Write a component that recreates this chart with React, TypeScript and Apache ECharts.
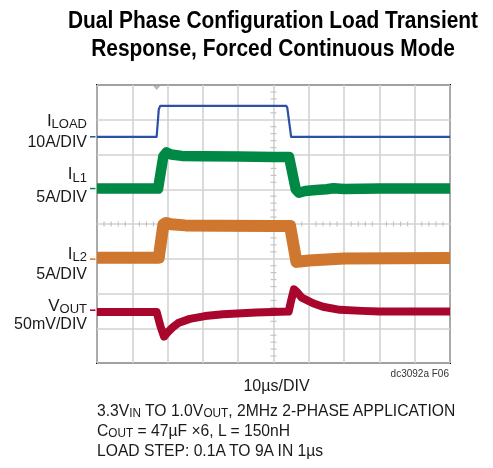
import React, { useEffect, useRef } from 'react';
import * as echarts from 'echarts';

// ---------- data ----------
const TITLE_TEXT = 'Dual Phase Configuration Load Transient\nResponse, Forced Continuous Mode';
const X_AXIS_LABEL = '10µs/DIV';
const FIG_CODE = 'dc3092a F06';

// time axis in µs (10 µs/div), vertical axis in screen divisions (0..8)
const X_MIN = 0, X_MAX = 100, X_INTERVAL = 10;
const Y_MIN = 0, Y_MAX = 8, Y_INTERVAL = 1;

const ILOAD_T = [0, 16.9, 17.5, 17.9, 53.6, 53.9, 55.0, 100];
const ILOAD_V = [6.51, 6.51, 7.3, 7.4, 7.4, 7.35, 6.51, 6.51];

const IL1_T = [0, 17.3, 18.8, 19.7, 21, 24, 30, 40, 50, 54.4, 56.3, 57.2, 59, 62, 65, 67, 70, 80, 100];
const IL1_V = [5.02, 5.02, 5.95, 6.06, 6.0, 5.96, 5.95, 5.94, 5.93, 5.93, 5.0, 4.9, 4.95, 4.98, 5.0, 5.03, 5.01, 5.02, 5.02];

const IL2_T = [0, 17.5, 18.8, 19.6, 21, 25, 35, 50, 54.7, 56.5, 57.5, 60, 65, 70, 100];
const IL2_V = [3.03, 3.03, 3.98, 4.03, 3.99, 3.96, 3.95, 3.94, 3.94, 2.91, 2.92, 2.95, 2.98, 3.01, 3.02];

const VOUT_T = [0, 16.9, 18.0, 19.0, 20.0, 21.5, 23, 26.3, 30.6, 35.7, 45, 54.3, 55.0, 55.8, 56.6, 58, 61.2, 64, 68.8, 75, 80, 100];
const VOUT_V = [1.47, 1.47, 1.05, 0.76, 0.88, 1.03, 1.15, 1.27, 1.35, 1.4, 1.45, 1.48, 1.8, 2.12, 2.05, 1.88, 1.72, 1.62, 1.53, 1.5, 1.48, 1.48];

const MARKER_LEVELS = [6.51, 5.02, 2.99, 1.52];
const TRIGGER_T = 16.9;

const TRACE_MAIN = ['I', 'I', 'I', 'V'];
const TRACE_SUB = ['LOAD', 'L1', 'L2', 'OUT'];
const TRACE_SCALE = ['10A/DIV', '5A/DIV', '5A/DIV', '50mV/DIV'];

const NOTE_LINES = [
  '3.3V{s|IN} TO 1.0V{s|OUT}, 2MHz 2-PHASE APPLICATION',
  'C{s|OUT} = 47µF ×6, L = 150nH',
  'LOAD STEP: 0.1A TO 9A IN 1µs',
];

// ---------- styles ----------
const COLORS = ['#2c50a4', '#008845', '#cf772e', '#a8062c'];
const WIDTHS = [2.2, 10.5, 12, 8];
const FONT = "'Liberation Sans', Arial, sans-serif";
const TEXT_COLOR = '#1a1a1a';

const LABEL_MAIN_Y = [120, 173.5, 253, 305];
const LABEL_SCALE_Y = [141.7, 196, 273, 323];

const zip = (t: number[], v: number[]) => t.map((x, i) => [x, v[i]]);

export default function App() {
  const ref = useRef<HTMLDivElement>(null);
  useEffect(() => {
    if (!ref.current) return;
    const chart = echarts.init(ref.current, undefined, { renderer: 'svg' });

    const ticks: number[][] = [];
    for (let k = 1; k < 50; k++) {
      if (k % 5 !== 0) ticks.push([X_MIN + k * (X_INTERVAL / 5), (Y_MIN + Y_MAX) / 2, 0]);
    }
    for (let k = 1; k < 40; k++) {
      if (k % 5 !== 0) ticks.push([(X_MIN + X_MAX) / 2, Y_MIN + k * (Y_INTERVAL / 5), 1]);
    }

    const rich = (size: number, subSize: number, pad: number) => ({
      m: { fontSize: size, fontFamily: FONT, fill: TEXT_COLOR, color: TEXT_COLOR },
      s: { fontSize: subSize, fontFamily: FONT, fill: TEXT_COLOR, color: TEXT_COLOR, padding: [pad, 0, 0, 0] },
    });

    const graphic: any[] = [
      {
        type: 'text', x: 273, y: 34, scaleX: 0.872,
        style: {
          text: TITLE_TEXT, fontSize: 24, fontWeight: 'bold', fontFamily: FONT,
          lineHeight: 29, fill: '#000', align: 'center', verticalAlign: 'middle',
          textAlign: 'center', textVerticalAlign: 'middle',
        },
      },
      {
        type: 'text', x: 276.5, y: 385,
        style: { text: X_AXIS_LABEL, fontSize: 16, fontFamily: FONT, fill: TEXT_COLOR, align: 'center', verticalAlign: 'middle', textAlign: 'center', textVerticalAlign: 'middle' },
      },
      {
        type: 'text', x: 449, y: 373,
        style: { text: FIG_CODE, fontSize: 10, fontFamily: FONT, fill: '#333', align: 'right', verticalAlign: 'middle', textAlign: 'right', textVerticalAlign: 'middle' },
      },
    ];
    TRACE_MAIN.forEach((m, i) => {
      graphic.push({
        type: 'text', x: 87, y: LABEL_MAIN_Y[i],
        style: {
          text: `{m|${m}}{s|${TRACE_SUB[i]}}`, rich: rich(17, 13, 7),
          align: 'right', verticalAlign: 'middle', textAlign: 'right', textVerticalAlign: 'middle',
        },
      });
      graphic.push({
        type: 'text', x: 87, y: LABEL_SCALE_Y[i],
        style: {
          text: TRACE_SCALE[i], fontSize: 16, fontFamily: FONT, fill: TEXT_COLOR,
          align: 'right', verticalAlign: 'middle', textAlign: 'right', textVerticalAlign: 'middle',
        },
      });
    });
    NOTE_LINES.forEach((line, i) => {
      const txt = line.split(/(\{s\|[^}]*\})/).filter((p) => p.length).map((p) => (p.startsWith('{s|') ? p : `{m|${p}}`)).join('');
      graphic.push({
        type: 'text', x: 97, y: 410 + i * 20, scaleX: 0.98,
        style: {
          text: txt, rich: rich(16, 12, 6),
          align: 'left', verticalAlign: 'middle', textAlign: 'left', textVerticalAlign: 'middle',
        },
      });
    });

    const traces = [zip(ILOAD_T, ILOAD_V), zip(IL1_T, IL1_V), zip(IL2_T, IL2_V), zip(VOUT_T, VOUT_V)];

    chart.setOption({
      animation: false,
      grid: { left: 97, top: 85, width: 353, height: 278, show: true, borderColor: '#111', borderWidth: 2, backgroundColor: 'transparent' },
      xAxis: {
        type: 'value', min: X_MIN, max: X_MAX, interval: X_INTERVAL,
        axisLine: { show: false }, axisTick: { show: false }, axisLabel: { show: false },
        splitLine: { show: true, lineStyle: { color: '#d2d2d2', width: 1.6 } },
      },
      yAxis: {
        type: 'value', min: Y_MIN, max: Y_MAX, interval: Y_INTERVAL,
        axisLine: { show: false }, axisTick: { show: false }, axisLabel: { show: false },
        splitLine: { show: true, lineStyle: { color: '#d2d2d2', width: 1.6 } },
      },
      graphic,
      series: [
        {
          type: 'custom', silent: true, z: 1, data: ticks,
          renderItem: (_p: any, api: any) => {
            const c = api.coord([api.value(0), api.value(1)]);
            const vert = api.value(2) === 0;
            return {
              type: 'line',
              shape: vert ? { x1: c[0], y1: c[1] - 2.5, x2: c[0], y2: c[1] + 2.5 } : { x1: c[0] - 3, y1: c[1], x2: c[0] + 3, y2: c[1] },
              style: { stroke: '#c4c4c4', lineWidth: 1.2 },
            };
          },
        },
        {
          type: 'custom', silent: true, z: 1, data: [[TRIGGER_T, Y_MAX]],
          renderItem: (_p: any, api: any) => {
            const c = api.coord([api.value(0), api.value(1)]);
            return {
              type: 'polygon',
              shape: { points: [[c[0] - 3.5, c[1] + 1], [c[0] + 3.5, c[1] + 1], [c[0], c[1] + 5]] },
              style: { fill: '#b8b8b8' },
            };
          },
        },
        {
          type: 'custom', silent: true, clip: false, z: 3,
          data: MARKER_LEVELS.map((v, i) => [X_MIN, v, i]),
          renderItem: (_p: any, api: any) => {
            const c = api.coord([api.value(0), api.value(1)]);
            return {
              type: 'line',
              shape: { x1: c[0] - 7, y1: c[1], x2: c[0] - 1.5, y2: c[1] },
              style: { stroke: COLORS[api.value(2)], lineWidth: 1.5 },
            };
          },
        },
        ...traces.map((d, i) => ({
          type: 'line', data: d, showSymbol: false, symbol: 'none', z: 2, silent: true,
          lineStyle: { color: COLORS[i], width: WIDTHS[i], join: 'round', cap: 'butt' },
        })),
      ],
    });
    return () => chart.dispose();
  }, []);
  return <div ref={ref} style={{ position: 'fixed', left: 0, top: 0, width: 493, height: 468 }} />;
}
